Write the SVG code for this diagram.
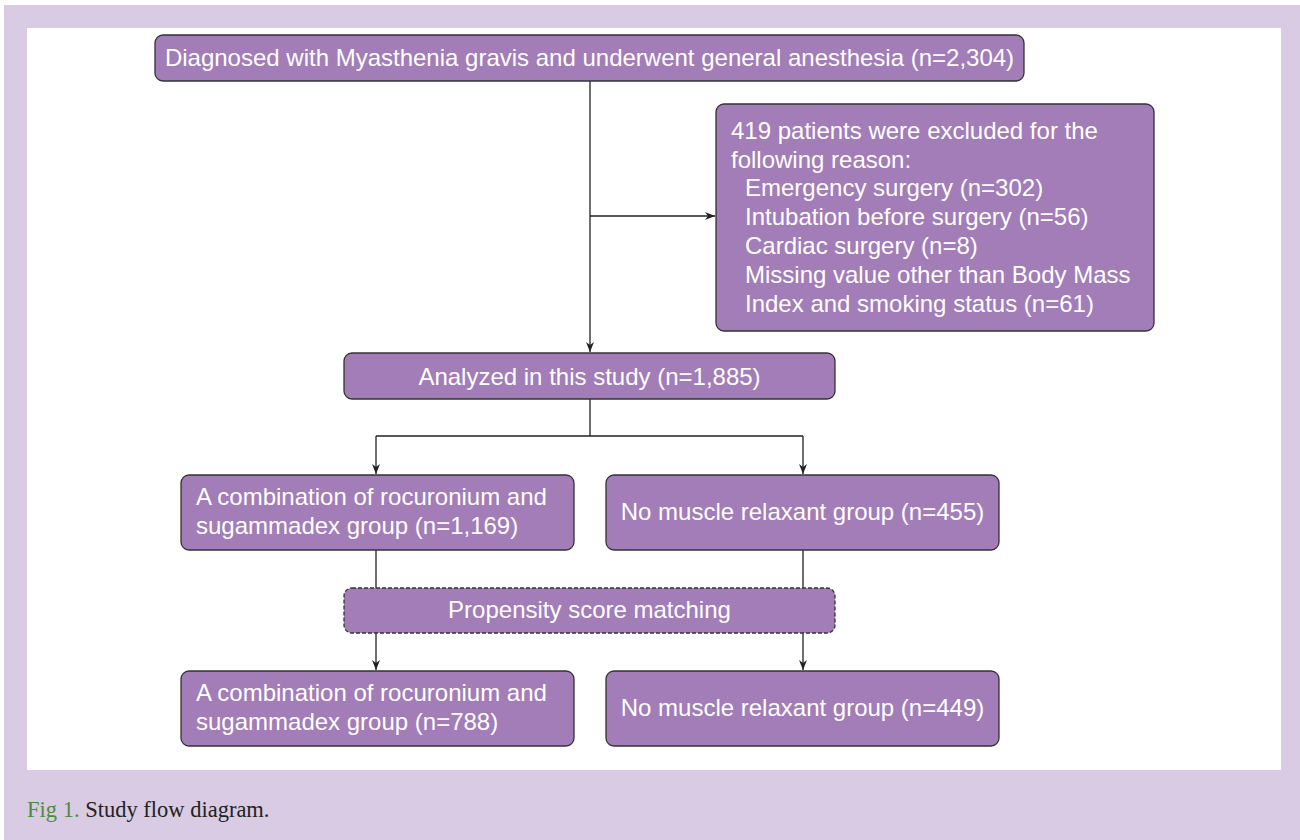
<svg xmlns="http://www.w3.org/2000/svg" width="1300" height="840" viewBox="0 0 1300 840">
<style>
.box{fill:#a27db8;stroke:#333;stroke-width:1.3}
.dash{stroke-dasharray:4 2}
.t{font-family:"Liberation Sans",Arial,sans-serif;font-size:24px;fill:#fff}
.c{text-anchor:middle}
.ln{fill:none;stroke:#222;stroke-width:1.3}
</style>
<defs>
<marker id="ah" viewBox="0 0 10 10" refX="10" refY="5" markerWidth="10" markerHeight="10" markerUnits="userSpaceOnUse" orient="auto">
<path d="M0,1 L10,5 L0,9 L3,5 z" fill="#222"/>
</marker>
</defs>
<rect x="0" y="0" width="1300" height="840" fill="#fff"/>
<rect x="4" y="5" width="1296" height="835" fill="#d9cbe3"/>
<rect x="27" y="28" width="1254" height="742" fill="#fff"/>
<g id="connectors">
<path class="ln" d="M590,81 V352" marker-end="url(#ah)"/>
<path class="ln" d="M590,216 H715" marker-end="url(#ah)"/>
<path class="ln" d="M590,399 V436 M376,436 H803"/>
<path class="ln" d="M376,436 V474" marker-end="url(#ah)"/>
<path class="ln" d="M803,436 V474" marker-end="url(#ah)"/>
<path class="ln" d="M376,550 V588 M803,550 V588"/>
<path class="ln" d="M376,633 V670" marker-end="url(#ah)"/>
<path class="ln" d="M803,633 V670" marker-end="url(#ah)"/>
</g>
<g id="n1">
<rect class="box" x="155" y="35" width="869" height="46" rx="8"/>
<text class="t c" x="589.5" y="66">Diagnosed with Myasthenia gravis and underwent general anesthesia (n=2,304)</text>
</g>
<g id="n2">
<rect class="box" x="716" y="104" width="438" height="227" rx="8"/>
<text class="t" x="731" y="139">419 patients were excluded for the</text>
<text class="t" x="731" y="168">following reason:</text>
<text class="t" x="745" y="196">Emergency surgery (n=302)</text>
<text class="t" x="745" y="225">Intubation before surgery (n=56)</text>
<text class="t" x="745" y="254">Cardiac surgery (n=8)</text>
<text class="t" x="745" y="283">Missing value other than Body Mass</text>
<text class="t" x="745" y="312">Index and smoking status (n=61)</text>
</g>
<g id="n3">
<rect class="box" x="344" y="353" width="491" height="46" rx="8"/>
<text class="t c" x="589.5" y="385">Analyzed in this study (n=1,885)</text>
</g>
<g id="n4">
<rect class="box" x="181" y="475" width="393" height="75" rx="8"/>
<text class="t" x="196" y="505">A combination of rocuronium and</text>
<text class="t" x="196" y="534">sugammadex group (n=1,169)</text>
</g>
<g id="n5">
<rect class="box" x="606" y="475" width="393" height="75" rx="8"/>
<text class="t c" x="802.5" y="520">No muscle relaxant group (n=455)</text>
</g>
<g id="n6">
<rect class="box dash" x="344" y="588" width="491" height="45" rx="8"/>
<text class="t c" x="589.5" y="618">Propensity score matching</text>
</g>
<g id="n7">
<rect class="box" x="181" y="671" width="393" height="75" rx="8"/>
<text class="t" x="196" y="701">A combination of rocuronium and</text>
<text class="t" x="196" y="730">sugammadex group (n=788)</text>
</g>
<g id="n8">
<rect class="box" x="606" y="671" width="393" height="75" rx="8"/>
<text class="t c" x="802.5" y="716">No muscle relaxant group (n=449)</text>
</g>
<text x="27" y="817" font-family="'Liberation Serif','DejaVu Serif',serif" font-size="22.5" fill="#222"><tspan fill="#4e8a3e">Fig 1.</tspan> Study flow diagram.</text>
</svg>
